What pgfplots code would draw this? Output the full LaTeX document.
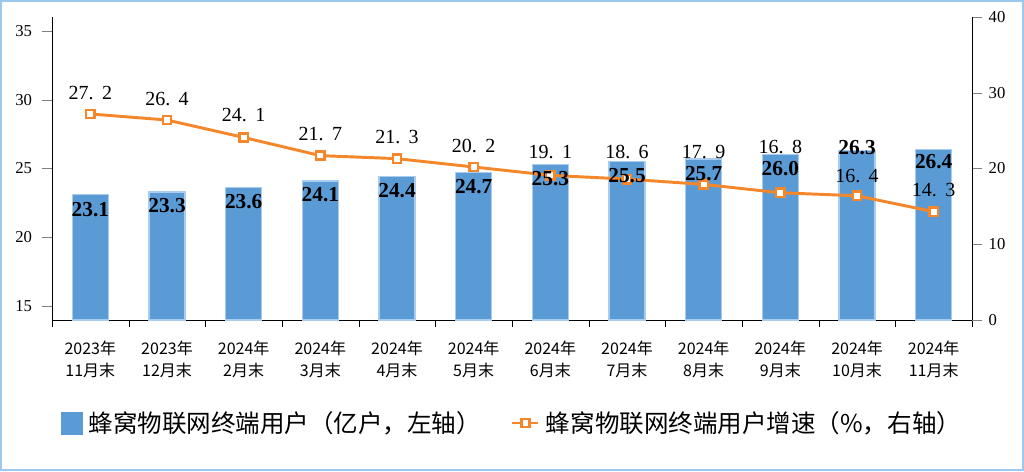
\documentclass[border=0pt]{standalone}
\usepackage{pgfplots}
\pgfplotsset{compat=1.18}
\usepackage{fontspec}
\setmainfont{Liberation Serif}
\newfontfamily\cjk{Noto Sans CJK SC}
\definecolor{barblue}{HTML}{5B9BD5}
\definecolor{baredge}{HTML}{A9CDEE}
\definecolor{lineor}{HTML}{F5872B}
\definecolor{framec}{HTML}{9DC8EE}
\pgfplotsset{
  base/.style={
    scale only axis, width=690pt, height=227.25pt,
    at={(0pt,0pt)}, anchor=south west,
    xmin=-0.5, xmax=11.5,
    tick align=outside,
    major tick length=7.5pt,
    /pgf/number format/assume math mode=true,
    tick label style={font=\fontsize{12.5}{12.5}\selectfont},
    clip=false,
  },
  lineleg/.style={legend image code/.code={\draw[mark repeat=2, mark phase=2, ##1] plot coordinates {(0pt,0pt) (9.75pt,0pt) (19.5pt,0pt)};}},
  barleg/.style={legend image code/.code={\fill[barblue] (0pt,-8.25pt) rectangle (16pt,8.25pt);}},
}
\begin{document}
\begin{tikzpicture}[x=1pt,y=1pt]
\useasboundingbox (-39,-113.25) rectangle (729,240);
\draw[framec, line width=1.6pt] (-38.2,-112.45) rectangle (728.2,239.2);
% bars
\begin{axis}[base,
  ymin=14, ymax=36, ytick={15,20,25,30,35},
  axis x line*=bottom, axis y line*=left,
  xtick={0,...,11},
  xticklabels={{2023年\\11月末},{2023年\\12月末},{2024年\\2月末},{2024年\\3月末},{2024年\\4月末},{2024年\\5月末},{2024年\\6月末},{2024年\\7月末},{2024年\\8月末},{2024年\\9月末},{2024年\\10月末},{2024年\\11月末}},
  x tick label style={font=\cjk\fontsize{12}{17}\selectfont, align=center, yshift=-4.5pt},
  major x tick style={draw=none},
  minor xtick={-0.5,0.5,...,11.5},
  minor tick length=5pt,
  minor x tick style={black},
  y tick label style={xshift=-4pt},
]
\addplot[ybar, bar width=27pt, fill=barblue, draw=baredge, line width=1pt]
  coordinates {(0,23.1) (1,23.3) (2,23.6) (3,24.1) (4,24.4) (5,24.7) (6,25.3) (7,25.5) (8,25.7) (9,26.0) (10,26.3) (11,26.4)};
\end{axis}
% line
\begin{axis}[base,
  ymin=0, ymax=40, ytick={0,10,...,40},
  axis x line=none, axis y line*=right,
  y tick label style={xshift=1.5pt},
  legend style={at={(0.502,-0.34)}, anchor=center, draw=none, fill=none,
    legend columns=2, font=\cjk\fontsize{18.4}{18.4}\selectfont,
    /tikz/every even column/.append style={column sep=18pt},
    nodes={inner sep=4.5pt},
    legend cell align=left},
]
\addlegendimage{barleg}
\addlegendentry{蜂窝物联网终端用户（亿户，左轴）}
\addplot[lineor, line width=2.2pt, mark=square*, mark size=3.1pt,
  mark options={fill=white, line width=1.9pt, draw=lineor},
  lineleg,
]
  coordinates {(0,27.2) (1,26.4) (2,24.1) (3,21.7) (4,21.3) (5,20.2) (6,19.1) (7,18.6) (8,17.9) (9,16.8) (10,16.4) (11,14.3)};
\addlegendentry{蜂窝物联网终端用户增速（\%，右轴）}
% labels of the growth rates
\addplot[draw=none, forget plot,
  nodes near coords={\pgfmathprintnumber[fixed, precision=1, fixed zerofill, dec sep={.\hspace{0.42em}}]{\pgfplotspointmeta}},
  point meta=explicit,
  every node near coord/.append style={anchor=center, text=black, font=\fontsize{15}{15}\selectfont},
]
  coordinates {(0,30.0)[27.2] (1,29.2)[26.4] (2,27.06)[24.1] (3,24.5)[21.7] (4,24.1)[21.3] (5,23.0)[20.2] (6,22.2)[19.1] (7,22.2)[18.6] (8,22.2)[17.9] (9,22.8)[16.8] (10,19.0)[16.4] (11,17.2)[14.3]};
\end{axis}
% bar labels
\begin{axis}[base, ymin=14, ymax=36, axis lines=none]
\addplot[draw=none, nodes near coords, point meta=explicit symbolic,
  every node near coord/.append style={anchor=center, text=black, font=\bfseries\fontsize{16}{16}\selectfont}]
  coordinates {(0,22.05)[23.1] (1,22.3)[23.3] (2,22.6)[23.6] (3,23.1)[24.1] (4,23.4)[24.4] (5,23.7)[24.7] (6,24.3)[25.3] (7,24.5)[25.5] (8,24.6)[25.7] (9,25.0)[26.0] (10,26.55)[26.3] (11,25.5)[26.4]};
\end{axis}
\end{tikzpicture}
\end{document}
